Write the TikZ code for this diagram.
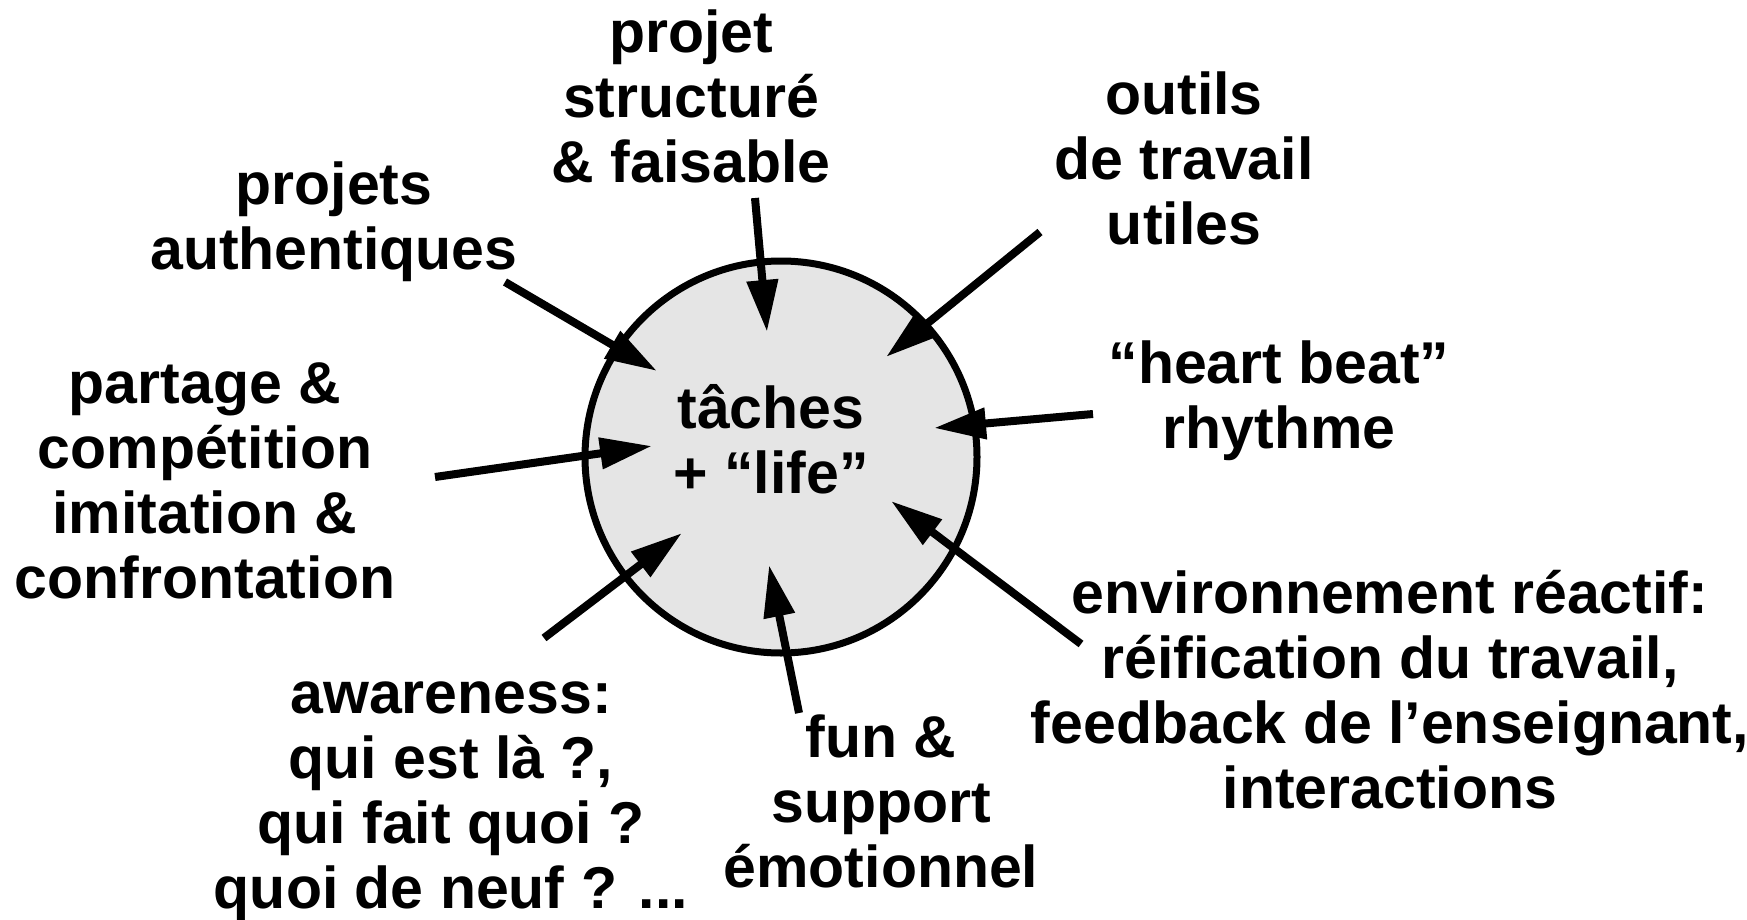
\documentclass[tikz,border=0pt]{standalone}
\usepackage{fontspec}
\setmainfont{Liberation Sans}
\usetikzlibrary{arrows.meta}
\begin{document}
\begin{tikzpicture}[x=1pt,y=-1pt,
  lbl/.style={align=center,inner sep=0pt,font=\bfseries\fontsize{59}{65}\selectfont},
  arr/.style={line width=8pt,-{Triangle[length=52pt,width=30pt]}},
  core/.style={circle,draw,line width=7pt,fill=black!10,minimum size=392pt,inner sep=0pt}]
\useasboundingbox (0,0) rectangle (1747,920);
\node[core] (c) at (781,457) {};
\node[lbl] (ct) at (771,439) {tâches\\+ “life”};

\node[lbl] (l1) at (691,96) {projet\\structuré\\\& faisable};
\node[lbl] (l2) at (334,222) {projets\\authentiques};
\node[lbl] (l3) at (1184,158) {outils\\de travail\\utiles};
\node[lbl] (l4) at (1279,401) {“heart beat”\\rhythme};
\node[lbl] (l5) at (205,481) {partage \&\\compétition\\imitation \&\\confrontation};
\node[lbl] (l6) at (1390,690) {environnement réactif:\\réification du travail,\\feedback de l’enseignant,\\interactions};
\node[lbl] (l7) at (451,801) {awareness:\\qui est là ?,\\qui fait quoi ?\\quoi de neuf ? ...};
\node[lbl] (l8) at (881,801) {fun \&\\support\\émotionnel};

\coordinate (s1) at (755,198); \coordinate (t1) at (767,332);
\coordinate (s2) at (505,282); \coordinate (t2) at (657,371);
\coordinate (s3) at (1040,232); \coordinate (t3) at (886,357);
\coordinate (s4) at (1093,414); \coordinate (t4) at (934,428);
\coordinate (s5) at (435,477); \coordinate (t5) at (652,446);
\coordinate (s6) at (1081,644); \coordinate (t6) at (891,501);
\coordinate (s7) at (544,638); \coordinate (t7) at (682,533);
\coordinate (s8) at (799,713); \coordinate (t8) at (769,565);
\foreach \i in {1,...,8} {\draw[arr] (s\i) -- (t\i);}
\end{tikzpicture}
\end{document}
